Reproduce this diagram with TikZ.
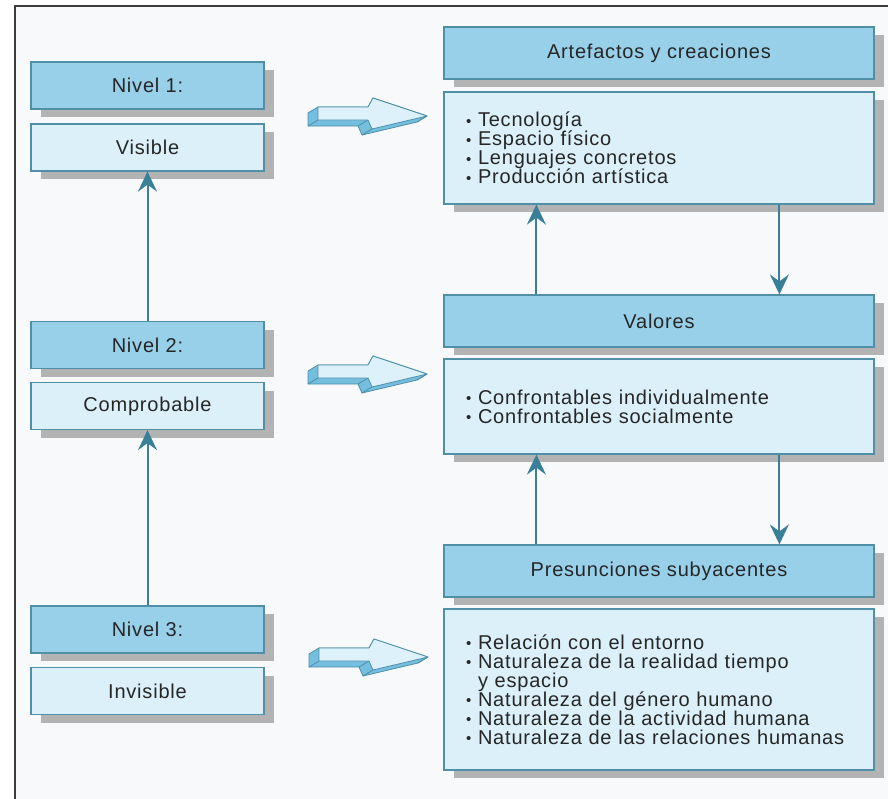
\documentclass[tikz,border=0pt]{standalone}
\usepackage{fontspec}
\setmainfont{Liberation Sans}[LetterSpace=4]
\usetikzlibrary{shadows,arrows.meta,calc}
\definecolor{hdr}{HTML}{98D0EA}
\definecolor{lgt}{HTML}{DCF0FA}
\definecolor{brd}{HTML}{4F8FA8}
\definecolor{arrc}{HTML}{3A7F98}
\definecolor{shd}{HTML}{B3B3B3}
\definecolor{txtc}{HTML}{262626}
\definecolor{bgc}{HTML}{F7F9FA}
\definecolor{frm}{HTML}{3C3C3C}
\definecolor{arrside}{HTML}{74BEE0}
\definecolor{arrface}{HTML}{DDF1FA}
\newcommand{\lbul}{\makebox[12pt][l]{\raisebox{0.5pt}{\fontsize{15}{15}\selectfont •}}}
\tikzset{
  boxbase/.style={draw=brd, line width=1.2pt, inner sep=0pt, text=txtc,
    font=\fontsize{20}{19}\selectfont,
    drop shadow={shadow xshift=10pt, shadow yshift=-8pt, fill=shd, opacity=1}},
  hdrbox/.style={boxbase, fill=hdr},
  lgtbox/.style={boxbase, fill=lgt},
  leftbox/.style={minimum width=233pt, minimum height=47pt},
  rightbox/.style={minimum width=430pt},
  listbox/.style={lgtbox, inner xsep=22pt, text width=386pt, align=left},
  conn/.style={draw=arrc, line width=2pt, -{Stealth[length=20pt,width=19pt,inset=7pt]}},
  pics/blkarrow/.style={code={
    \fill[arrside, draw=brd, line width=0.8pt, line join=round]
      (0,0) -- (50,0) -- (55,-9) -- (109,9) -- (99,15) -- (44,28) -- (40,19) -- (-10,19) -- (-10,6) -- cycle;
    \draw[brd, line width=0.8pt] (0,13) -- (-10,19) (50,13) -- (40,19) (54,22) -- (44,28) (109,9) -- (99,15);
    \fill[arrface, draw=brd, line width=0.8pt, line join=round]
      (0,0) -- (50,0) -- (55,-9) -- (109,9) -- (54,22) -- (50,13) -- (0,13) -- cycle;
  }}
}
\begin{document}
\begin{tikzpicture}[x=1pt, y=-1pt]
\useasboundingbox (0,0) rectangle (888,798);
\fill[white] (0,0) rectangle (888,798);
\fill[bgc] (14,6) rectangle (890,800);
\draw[frm, line width=2.5pt] (15,800) -- (15,6) -- (890,6);

% left column
\node[hdrbox, leftbox] (n1h) at (147.5,85.5) {Nivel 1:};
\node[lgtbox, leftbox] (n1b) at (147.5,147.5) {Visible};
\node[hdrbox, leftbox] (n2h) at (147.5,345) {Nivel 2:};
\node[lgtbox, leftbox] (n2b) at (147.5,406) {Comprobable};
\node[hdrbox, leftbox] (n3h) at (147.5,629.5) {Nivel 3:};
\node[lgtbox, leftbox] (n3b) at (147.5,691) {Invisible};

% right column
\node[hdrbox, rightbox, minimum height=52pt] (arth) at (659,53) {Artefactos y creaciones};
\node[listbox, minimum height=112pt] (artb) at (659,148)
  {\lbul Tecnología\\ \lbul Espacio físico\\ \lbul Lenguajes concretos\\ \lbul Producción artística};
\node[hdrbox, rightbox, minimum height=52pt] (valh) at (659,321) {Valores};
\node[listbox, minimum height=95pt] (valb) at (659,406.5)
  {\lbul Confrontables individualmente\\ \lbul Confrontables socialmente};
\node[hdrbox, rightbox, minimum height=52pt] (preh) at (659,571) {Presunciones subyacentes};
\node[listbox, minimum height=161pt] (preb) at (659,689.5)
  {\lbul Relación con el entorno\\ \lbul Naturaleza de la realidad tiempo\\ \hspace*{12pt}y espacio\\ \lbul Naturaleza del género humano\\ \lbul Naturaleza de la actividad humana\\ \lbul Naturaleza de las relaciones humanas};

% block arrows
\pic (ba1) at (318,107) {blkarrow};
\pic (ba2) at (318,365) {blkarrow};
\pic (ba3) at (319,648) {blkarrow};

% connectors
\draw[conn] (n2h.north) -- (n1b.south);
\draw[conn] (n3h.north) -- (n2b.south);
\draw[conn] ($(valh.north west)+(93,0)$) -- ($(artb.south west)+(93,0)$);
\draw[conn] ($(artb.south west)+(336,0)$) -- ($(valh.north west)+(336,0)$);
\draw[conn] ($(preh.north west)+(93,0)$) -- ($(valb.south west)+(93,0)$);
\draw[conn] ($(valb.south west)+(336,0)$) -- ($(preh.north west)+(336,0)$);
\end{tikzpicture}
\end{document}
